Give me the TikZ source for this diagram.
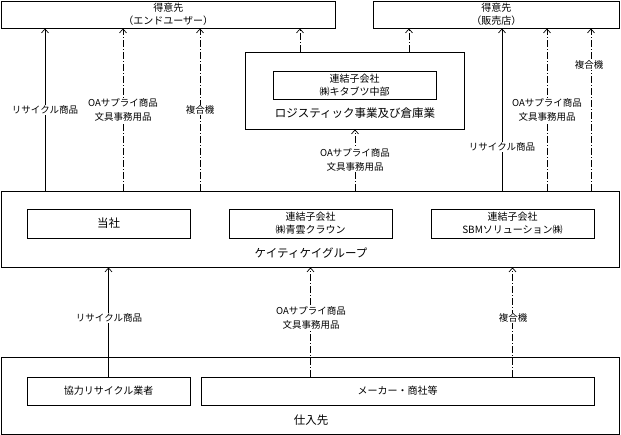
\documentclass[tikz,border=0pt]{standalone}
\usepackage{fontspec}
\setmainfont{Noto Sans CJK JP}
\usetikzlibrary{arrows.meta}

\tikzset{
  box/.style={draw, line width=0.8pt, inner sep=0pt, align=center, font=\fontsize{10}{13}\selectfont},
  flow/.style={line width=0.7pt, -{Straight Barb[length=4pt,width=7pt]}},
  dashflow/.style={flow, dash pattern=on 7pt off 2pt on 1pt off 2pt},
  lbl/.style={fill=white, inner sep=1pt, align=center, font=\fontsize{9.5}{14}\selectfont},
  big/.style={font=\fontsize{11.5}{13}\selectfont},
}

\begin{document}
\begin{tikzpicture}[x=1pt,y=-1pt]
\useasboundingbox (0,0) rectangle (621,435);

\path (168.25,14.5) node[box, minimum width=333.5, minimum height=27] (endu) {得意先\\（エンドユーザー）};
\path (496.25,14.5) node[box, minimum width=246.5, minimum height=27] (shop) {得意先\\（販売店）};
\path (354.5,90.5) node[box, minimum width=219, minimum height=77] (logi) {};
\path (354.5,85) node[box, minimum width=163, minimum height=28] (kita) {連結子会社\\㈱キタブツ中部};
\path (355,113) node[big] (logilbl) {ロジスティック事業及び倉庫業};

\path (310.5,229) node[box, minimum width=618, minimum height=76] (grp) {};
\path (108.5,223.5) node[box, big, minimum width=163, minimum height=29] (tosha) {当社};
\path (310.5,223.5) node[box, minimum width=163, minimum height=29] (seiun) {連結子会社\\㈱青雲クラウン};
\path (512.5,223.5) node[box, minimum width=163, minimum height=29] (sbm) {連結子会社\\SBMソリューション㈱};
\path (311,253) node[big] (grplbl) {ケイティケイグループ};

\path (310.5,395.5) node[box, minimum width=618, minimum height=77] (sup) {};
\path (108.5,391) node[box, minimum width=163, minimum height=28] (kyo) {協力リサイクル業者};
\path (397.5,391) node[box, minimum width=393, minimum height=28] (maker) {メーカー・商社等};
\path (311,420) node[big] (suplbl) {仕入先};

\draw[flow] (45,0 |- grp.north) -- (45,0 |- endu.south);
\draw[dashflow] (123,0 |- grp.north) -- (123,0 |- endu.south);
\draw[dashflow] (200,0 |- grp.north) -- (200,0 |- endu.south);
\draw[dashflow] (300,0 |- logi.north) -- (300,0 |- endu.south);
\draw[dashflow] (409,0 |- logi.north) -- (409,0 |- shop.south);
\draw[dashflow] (355,0 |- grp.north) -- (355,0 |- logi.south);
\draw[flow] (502,0 |- grp.north) -- (502,0 |- shop.south);
\draw[dashflow] (547,0 |- grp.north) -- (547,0 |- shop.south);
\draw[dashflow] (591,0 |- grp.north) -- (591,0 |- shop.south);

\draw[flow] (tosha.center |- kyo.north) -- (tosha.center |- grp.south);
\draw[dashflow] (seiun.center |- maker.north) -- (seiun.center |- grp.south);
\draw[dashflow] (sbm.center |- maker.north) -- (sbm.center |- grp.south);

\path (45,110) node[lbl] (l1) {リサイクル商品};
\path (123,110) node[lbl] (l2) {OAサプライ商品\\文具事務用品};
\path (200,110) node[lbl] (l3) {複合機};
\path (355,160) node[lbl] (l4) {OAサプライ商品\\文具事務用品};
\path (502,147) node[lbl] (l5) {リサイクル商品};
\path (547,110) node[lbl] (l6) {OAサプライ商品\\文具事務用品};
\path (589,65) node[lbl] (l7) {複合機};
\path (109,318) node[lbl] (l8) {リサイクル商品};
\path (311,318) node[lbl] (l9) {OAサプライ商品\\文具事務用品};
\path (513,318) node[lbl] (l10) {複合機};
\end{tikzpicture}
\end{document}
